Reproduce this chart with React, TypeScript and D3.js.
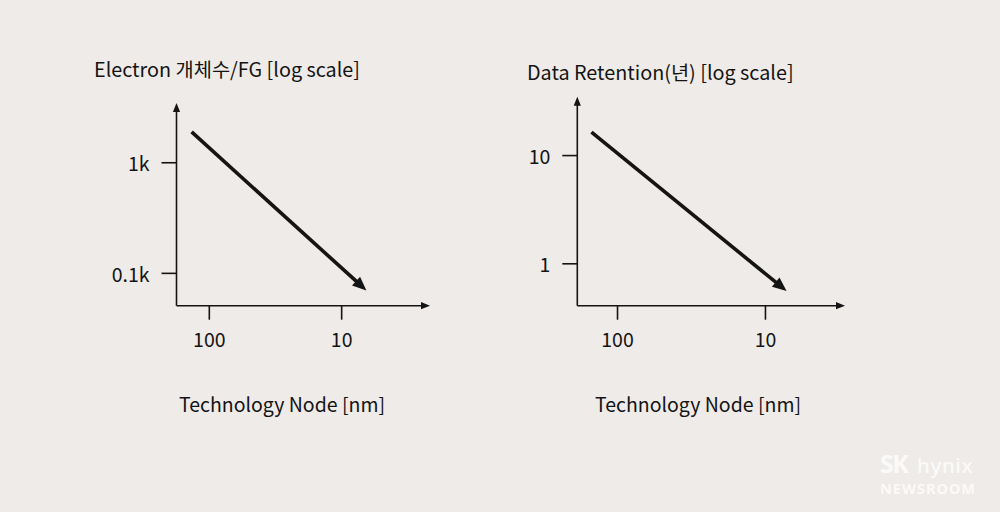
import * as React from "react";
import { scaleLog } from "d3";

// values
const nodeTicks = [100, 10];
const electronTicks = [1000, 100];
const electronTickLabels = ["1k", "0.1k"];
const retentionTicks = [10, 1];
const retentionTickLabels = ["10", "1"];

const electronTrend = [
  { node: 136, value: 1900 },
  { node: 6.5, value: 70 },
];
const retentionTrend = [
  { node: 150, value: 16.5 },
  { node: 7.2, value: 0.56 },
];

const BG = "#efebe8";
const INK = "#141414";
const FONT = "'Noto Sans CJK KR', 'Noto Sans', sans-serif";

interface PanelProps {
  title: string;
  titleX: number;
  titleY: number;
  labelX: number;
  xDomain: [number, number];
  xRange: [number, number];
  yDomain: [number, number];
  yRange: [number, number];
  yTicks: number[];
  yTickLabels: string[];
  trend: { node: number; value: number }[];
}

function arrowHead(x: number, y: number, angle: number, len: number, half: number) {
  const bx = x - len * Math.cos(angle);
  const by = y - len * Math.sin(angle);
  const px = -Math.sin(angle) * half;
  const py = Math.cos(angle) * half;
  return `M${x},${y}L${bx + px},${by + py}L${bx - px},${by - py}Z`;
}

function Panel(props: PanelProps) {
  const { title, titleX, titleY, labelX, xDomain, xRange, yDomain, yRange, yTicks, yTickLabels, trend } = props;
  const x = scaleLog().domain(xDomain).range(xRange);
  const y = scaleLog().domain(yDomain).range(yRange);
  const x0 = xRange[0];
  const y0 = yRange[0];

  const sx = x(trend[0].node);
  const sy = y(trend[0].value);
  const ex = x(trend[1].node);
  const ey = y(trend[1].value);
  const ang = Math.atan2(ey - sy, ex - sx);
  const headLen = 14;
  const lx = ex - (headLen - 2) * Math.cos(ang);
  const ly = ey - (headLen - 2) * Math.sin(ang);

  return (
    <g>
      <text x={titleX} y={titleY} fontSize={19.8} fill={INK}>
        {title}
      </text>

      {/* axes */}
      <line x1={x0} y1={y0} x2={x0} y2={yRange[1] + 6} stroke={INK} strokeWidth={1.6} />
      <path d={arrowHead(x0, yRange[1], -Math.PI / 2, 9, 3.6)} fill={INK} />
      <line x1={x0} y1={y0} x2={xRange[1] - 6} y2={y0} stroke={INK} strokeWidth={1.6} />
      <path d={arrowHead(xRange[1], y0, 0, 9, 3.6)} fill={INK} />

      {yTicks.map((t, i) => (
        <g key={`y-${t}`} transform={`translate(0,${y(t)})`}>
          <line x1={x0 - 15} x2={x0} stroke={INK} strokeWidth={1.6} />
          <text x={x0 - 27} textAnchor="end" dominantBaseline="central" fontSize={19.5} fill={INK}>
            {yTickLabels[i]}
          </text>
        </g>
      ))}

      {nodeTicks.map((t) => (
        <g key={`x-${t}`} transform={`translate(${x(t)},0)`}>
          <line y1={y0} y2={y0 + 14} stroke={INK} strokeWidth={1.6} />
          <text y={y0 + 41} textAnchor="middle" fontSize={19.5} fill={INK}>
            {t}
          </text>
        </g>
      ))}

      <text x={labelX} y={412} textAnchor="middle" fontSize={19.5} fill={INK}>
        Technology Node [nm]
      </text>

      <line x1={sx} y1={sy} x2={lx} y2={ly} stroke={INK} strokeWidth={3.6} />
      <path d={arrowHead(ex, ey, ang, headLen, 6)} fill={INK} />
    </g>
  );
}

export default function App() {
  return (
    <svg
      width={1000}
      height={512}
      style={{ position: "absolute", left: 0, top: 0, fontFamily: FONT }}
    >
      <rect width={1000} height={512} fill={BG} />
      <Panel
        title="Electron 개체수/FG [log scale]"
        titleX={94}
        titleY={77}
        labelX={282}
        xDomain={[177, 2.15]}
        xRange={[176.5, 430]}
        yDomain={[51, 3470]}
        yRange={[305.7, 103]}
        yTicks={electronTicks}
        yTickLabels={electronTickLabels}
        trend={electronTrend}
      />
      <Panel
        title="Data Retention(년) [log scale]"
        titleX={527}
        titleY={80}
        labelX={698}
        xDomain={[187, 2.9]}
        xRange={[577.3, 845]}
        yDomain={[0.41, 35]}
        yRange={[305.7, 96.7]}
        yTicks={retentionTicks}
        yTickLabels={retentionTickLabels}
        trend={retentionTrend}
      />
      <g fill="#fbfaf9" fontFamily="'Noto Sans', sans-serif" fontWeight={700}>
        <text x={880} y={473} fontSize={25} letterSpacing={-1.5}>
          SK
        </text>
        <text x={917} y={473} fontSize={20.5} fontWeight={500} letterSpacing={0.6}>
          hynix
        </text>
        <text x={880} y={494} fontSize={14.5} letterSpacing={1}>
          NEWSROOM
        </text>
      </g>
    </svg>
  );
}
